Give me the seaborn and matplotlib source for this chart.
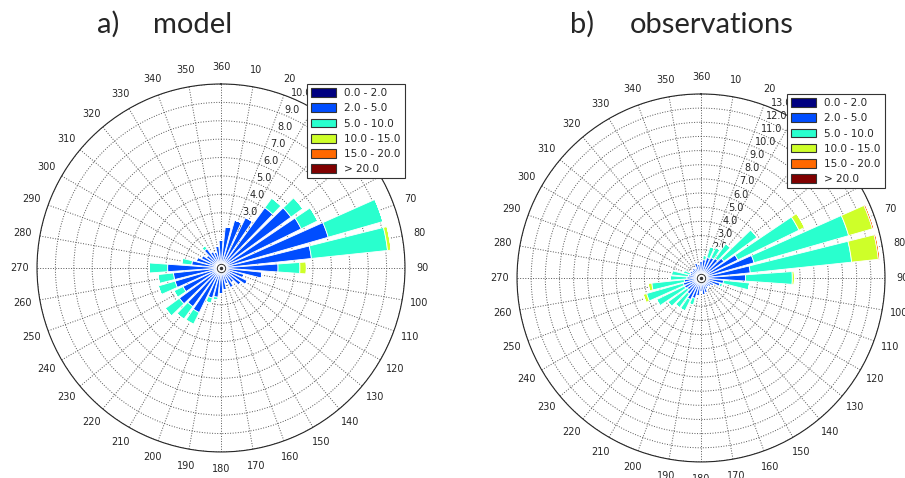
import numpy as np
import matplotlib
matplotlib.use("Agg")
import matplotlib.pyplot as plt
from matplotlib.patches import Patch
import seaborn as sns

# wind direction sectors (degrees, 10 ... 360)
directions = list(range(10, 361, 10))
speed_bins = ["0.0 - 2.0", "2.0 - 5.0", "5.0 - 10.0", "10.0 - 15.0", "15.0 - 20.0", "> 20.0"]

# model frequencies (%) per speed class, one value per direction
model_0_2 = [0.2, 0.2, 0.2, 0.2, 0.2, 0.2, 0.2, 0.2, 0.2, 0.2, 0.2, 0.2,
             0.2, 0.2, 0.2, 0.2, 0.2, 0.2, 0.2, 0.2, 0.2, 0.2, 0.2, 0.2,
             0.2, 0.2, 0.2, 0.2, 0.2, 0.2, 0.2, 0.2, 0.2, 0.2, 0.2, 0.2]
model_2_5 = [2.05, 2.5, 2.85, 3.85, 4.5, 4.65, 5.86, 4.74, 2.9, 2.05, 1.1, 1.4,
             1.15, 0.8, 1.0, 0.7, 1.0, 1.2, 1.4, 1.5, 2.5, 2.4, 2.6, 2.1,
             2.4, 2.4, 2.7, 1.4, 1.2, 1.0, 0.8, 1.1, 0.8, 0.7, 1.0, 1.3]
model_5_10 = [0, 0, 0, 0.65, 0.8, 1.0, 3.1, 4.16, 1.19, 0, 0, 0,
              0, 0, 0, 0, 0, 0, 0.15, 0.3, 0.7, 0.85, 0.95, 0.55,
              0.95, 0.85, 1.0, 0.55, 0, 0, 0, 0.2, 0, 0, 0, 0]
model_10_15 = [0, 0, 0, 0, 0, 0, 0, 0.2, 0.35, 0, 0, 0,
               0, 0, 0, 0, 0, 0, 0, 0, 0.05, 0, 0, 0,
               0, 0, 0, 0, 0, 0, 0, 0, 0, 0, 0, 0]
model_15_20 = [0] * 36
model_20 = [0] * 36

# observed frequencies (%)
obs_0_2 = [0.15, 0.15, 0.15, 0.15, 0.15, 0.15, 0.15, 0.15, 0.15, 0.15, 0.15, 0.15,
           0.15, 0.15, 0.15, 0.15, 0.15, 0.15, 0.15, 0.15, 0.15, 0.15, 0.15, 0.15,
           0.15, 0.15, 0.15, 0.15, 0.15, 0.15, 0.15, 0.15, 0.15, 0.15, 0.15, 0.15]
obs_2_5 = [1.15, 1.35, 1.45, 1.55, 1.85, 2.75, 3.75, 3.35, 3.0, 1.45, 1.25, 0.85,
           0.75, 0.65, 0.75, 0.95, 1.05, 0.85, 1.15, 1.35, 1.55, 1.25, 1.05, 1.15,
           1.15, 1.05, 0.85, 0.75, 0.65, 0.75, 0.65, 0.75, 0.65, 0.95, 0.85, 1.05]
obs_5_10 = [0.3, 0.8, 0.8, 1.3, 2.9, 4.8, 6.95, 7.2, 3.3, 1.85, 0.2, 0,
            0, 0, 0, 0, 0, 0, 0, 0.5, 0.9, 1.2, 1.7, 2.2,
            2.7, 2.3, 1.2, 1.2, 0.5, 0, 0, 0, 0, 0, 0, 0]
obs_10_15 = [0, 0, 0, 0, 0, 0.45, 1.75, 1.9, 0.15, 0, 0, 0,
             0, 0, 0, 0, 0, 0, 0, 0, 0, 0, 0, 0,
             0.25, 0.25, 0, 0, 0, 0, 0, 0, 0, 0, 0, 0]
obs_15_20 = [0, 0, 0, 0, 0, 0, 0.12, 0.12, 0, 0, 0, 0,
             0, 0, 0, 0, 0, 0, 0, 0, 0, 0, 0, 0,
             0, 0, 0, 0, 0, 0, 0, 0, 0, 0, 0, 0]
obs_20 = [0] * 36

model_classes = [model_0_2, model_2_5, model_5_10, model_10_15, model_15_20, model_20]
obs_classes = [obs_0_2, obs_2_5, obs_5_10, obs_10_15, obs_15_20, obs_20]

sns.set_style("white")
colors = plt.get_cmap("jet")(np.linspace(0, 1, len(speed_bins)))


def windrose(ax, classes, rmax):
    theta = np.radians(directions)
    width = np.radians(10) * 0.8
    bottom = np.zeros(len(directions))
    for vals, col in zip(classes, colors):
        vals = np.array(vals, dtype=float)
        ax.bar(theta, vals, width=width, bottom=bottom, color=col,
               edgecolor="white", linewidth=0.6, zorder=2)
        bottom = bottom + vals
    ax.set_theta_zero_location("N")
    ax.set_theta_direction(-1)
    ax.set_thetagrids(np.arange(0, 360, 10),
                      labels=["360"] + [str(d) for d in range(10, 360, 10)],
                      fontsize=7)
    rticks = np.arange(0, rmax + 1)
    ax.set_rgrids(rticks, labels=[f"{r:.1f}" for r in rticks], angle=22.5, fontsize=7)
    ax.set_ylim(0, rmax)
    ax.grid(True, linestyle=":", color="#555555", linewidth=0.7)
    ax.spines["polar"].set_linewidth(0.8)
    ax.tick_params(axis="x", pad=2)
    # small marker at the centre
    ax.plot([0], [0], marker="o", ms=6, mfc="white", mec="#333333", mew=0.7, zorder=5)
    ax.plot([0], [0], marker="o", ms=1.5, color="#333333", zorder=6)
    handles = [Patch(facecolor=c, edgecolor="#333333", linewidth=0.8) for c in colors]
    leg = ax.legend(handles, speed_bins, loc="upper right", bbox_to_anchor=(1.0, 1.0),
                    borderaxespad=0, fontsize=7.5, handlelength=2.4, handleheight=0.9,
                    fancybox=False, framealpha=1, edgecolor="#333333")
    leg.get_frame().set_linewidth(0.8)


fig = plt.figure(figsize=(9.05, 4.78), dpi=100)
ax1 = fig.add_axes([0.0409, 0.0544, 0.4066, 0.77], projection="polar")
ax2 = fig.add_axes([0.5713, 0.0335, 0.4066, 0.77], projection="polar")

windrose(ax1, model_classes, 10)
windrose(ax2, obs_classes, 13)

title_font = dict(family=["Lato", "DejaVu Sans"], fontsize=21, va="baseline")
fig.text(97 / 905, 1 - 33 / 478, "a)", **title_font)
fig.text(153 / 905, 1 - 33 / 478, "model", **title_font)
fig.text(570 / 905, 1 - 33 / 478, "b)", **title_font)
fig.text(630 / 905, 1 - 33 / 478, "observations", **title_font)

fig.savefig("out.png", dpi=100)
